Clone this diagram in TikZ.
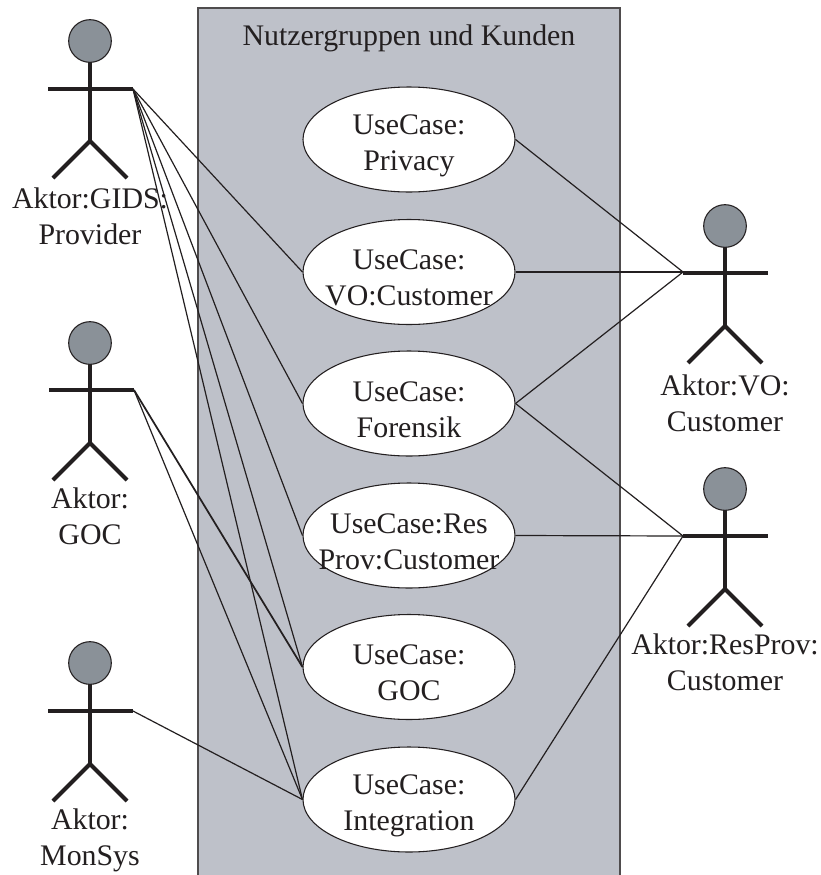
\documentclass[tikz,border=0pt]{standalone}
\usepackage{fontspec}
\setmainfont{Liberation Serif}
\usetikzlibrary{shapes.geometric}
\definecolor{panelc}{HTML}{BEC1C9}
\definecolor{headc}{HTML}{8A9198}
\definecolor{inkc}{HTML}{231F20}
\newcommand{\ucstrut}{\rule{0pt}{24pt}}
\tikzset{
 x=0.75pt,y=-0.75pt,
 wire/.style={draw=inkc,line width=0.9pt},
 usecase/.style={ellipse,draw=inkc,fill=white,line width=0.8pt,minimum width=159pt,minimum height=78.75pt,inner xsep=-30pt,inner ysep=-15pt,align=center,font=\fontsize{22.4}{27}\selectfont,text=inkc},
 lbl/.style={align=center,font=\fontsize{22.4}{27}\selectfont,text=inkc,inner sep=0pt},
 limb/.style={draw=inkc,line width=3pt},
 headn/.style={circle,draw=inkc,fill=headc,line width=0.8pt,minimum size=32pt,inner sep=0pt}
}
\begin{document}
\begin{tikzpicture}
\useasboundingbox (0,0) rectangle (821,875);
\fill[white] (0,0) rectangle (821,875);
\draw[draw=inkc!80,fill=panelc,line width=0.9pt] (198,875) -- (198,8) -- (620,8) -- (620,875);
\node[lbl] (title) at (409,38) {Nutzergruppen und Kunden};
% use cases
\node[usecase] (uc1) at (409,139.5) {\ucstrut UseCase:\\Privacy};
\node[usecase] (uc2) at (409,272) {\ucstrut UseCase:\\VO:Customer};
\node[usecase] (uc3) at (409,403.5) {\ucstrut UseCase:\\Forensik};
\node[usecase] (uc4) at (409,535.5) {\ucstrut UseCase:Res\\Prov:Customer};
\node[usecase] (uc5) at (409,667) {\ucstrut UseCase:\\GOC};
\node[usecase] (uc6) at (409,799.5) {\ucstrut UseCase:\\Integration};
% actor hands
\coordinate (gr) at (133,89);
\coordinate (cr) at (134,390);
\coordinate (mr) at (133,711);
\coordinate (vl) at (683,272);
\coordinate (pl) at (683,536);
% connectors
\foreach \t in {uc2,uc3,uc4,uc5,uc6}{\draw[wire] (gr) -- (\t.west);}
\draw[wire,line width=1.3pt] (cr) -- (uc5.west);
\draw[wire] (cr) -- (uc6.west);
\draw[wire] (mr) -- (uc6.west);
\draw[wire] (uc1.east) -- (vl);
\draw[wire] (uc2.east) -- (vl);
\draw[wire] (uc3.east) -- (vl);
\draw[wire] (uc3.east) -- (pl);
\draw[wire] (uc4.east) -- (pl);
\draw[wire] (uc6.east) -- (pl);
% actors
\foreach \n/\hx/\hy/\ax/\ay/\cy/\fy in {a/90/41/90.5/89/141/178, b/90/343/91.5/390/443/480, c/90/663/90.5/711/764/801, d/725/226/725.5/273/326/363, e/725/489/725.5/536/589/626}{
 \draw[limb] (\hx,\hy) -- (\hx,\cy);
 \draw[limb] (\ax-42.5,\ay) -- (\ax+42.5,\ay);
 \draw[limb] (\hx-37,\fy) -- (\hx,\cy) -- (\hx+37,\fy);
 \node[headn] (h\n) at (\hx,\hy) {};
}
\node[lbl] (la) at (90,216.5) {Aktor:GIDS:\\Provider};
\node[lbl] (lb) at (90,516) {Aktor:\\GOC};
\node[lbl] (lc) at (90,840.5) {Aktor:\\MonSys};
\node[lbl] (ld) at (725,403) {Aktor:VO:\\Customer};
\node[lbl] (le) at (725,662) {Aktor:ResProv:\\Customer};
\end{tikzpicture}
\end{document}
